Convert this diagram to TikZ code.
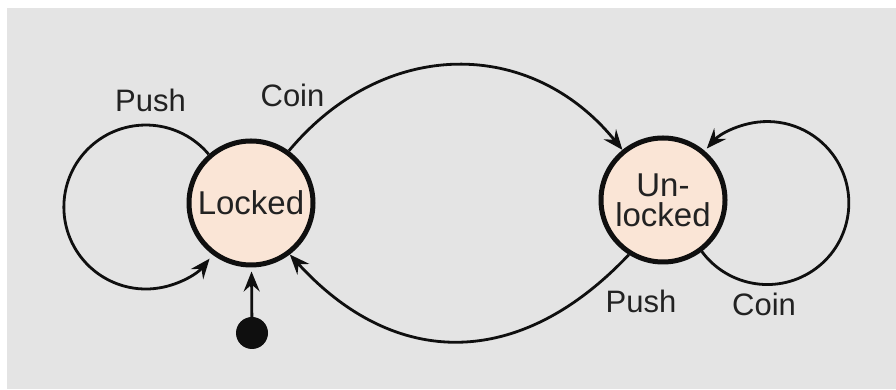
\documentclass[tikz,border=0pt]{standalone}
\usepackage{fontspec}
\setmainfont{Liberation Sans}
\usetikzlibrary{arrows.meta}
\definecolor{bggray}{RGB}{228,228,228}
\definecolor{statefill}{RGB}{250,229,214}
\definecolor{ink}{RGB}{15,15,15}
\definecolor{txt}{RGB}{34,34,34}
\begin{document}
\begin{tikzpicture}[x=1pt,y=1pt,
  state/.style={circle, draw=ink, line width=5pt, fill=statefill, minimum size=124pt, inner sep=0pt, text=txt, font=\fontsize{33}{30}\selectfont, align=center},
  edge/.style={draw=ink, line width=2.8pt, -{Stealth[length=20pt,width=16pt,inset=7pt]}},
  lbl/.style={text=txt, font=\fontsize{31}{31}\selectfont, anchor=base, inner sep=0pt},
  initdot/.style={circle, fill=ink, minimum size=32pt, inner sep=0pt}]
\useasboundingbox (0,0) rectangle (896,390);
\fill[white] (0,0) rectangle (896,390);
\fill[bggray] (7,1) rectangle (896,382);
\node[state] (L) at (251,187) {Locked};
\node[state] (U) at (663,190) {Un-\\locked};
\node[initdot] (I) at (252,57) {};
\draw[edge, shorten >=4pt] (I) -- (L);
\draw[edge] (L.131) arc[start angle=40, end angle=321, radius=82];
\draw[edge] (U.-53) arc[start angle=-143.5, end angle=138, radius=81.5];
\draw[edge] (L.54) .. controls (384,353) and (531,353) .. (U.129);
\draw[edge] (U.238) .. controls (520,20) and (395,20) .. (L.-53);
\node[lbl] (pushL) at (150.5,278) {Push};
\node[lbl] (coinT) at (292.5,283) {Coin};
\node[lbl] (pushB) at (641,77) {Push};
\node[lbl] (coinB) at (764,74) {Coin};
\end{tikzpicture}
\end{document}
